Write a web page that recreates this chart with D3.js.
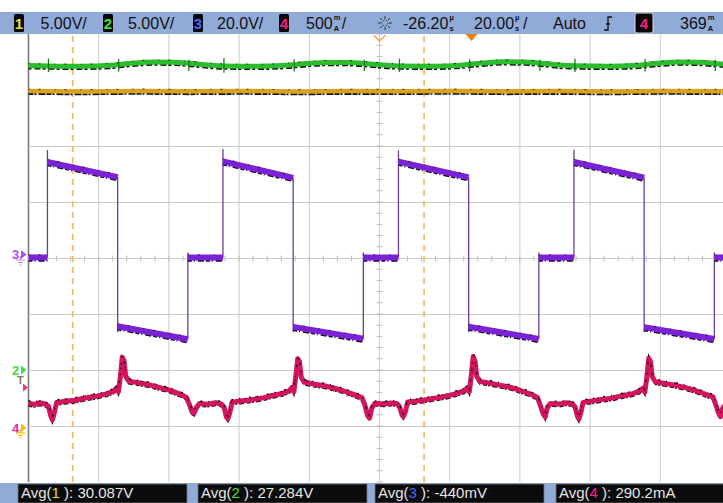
<!DOCTYPE html>
<html><head><meta charset="utf-8">
<script src="https://cdn.jsdelivr.net/npm/d3@7"></script>
<style>
body{margin:0;background:#fff}
svg{display:block}
text{font-family:"Liberation Sans",Arial,sans-serif}
</style>
</head><body>
<svg id="c" width="723" height="503"></svg>
<script>
// ---------------- DATA ----------------
const timeRange = [-126.2, 73.8];          // µs (20 µs/div, delay -26.2 µs)
const cursorTimes = [-113.6, -13.5];       // µs, dashed time cursors
const triggerTime = 0;                      // µs
const delayTime = -26.2;                    // µs

// Channel 1 (V)
const ch1Trace = [[-126.2,30.15],[-110,30.12],[-95,30.17],[-80,30.13],[-65,30.16],[-50,30.12],[-35,30.15],[-20,30.14],[-5,30.17],[10,30.13],[25,30.15],[40,30.12],[55,30.16],[73.8,30.14]];

// Channel 2 (V)
const ch2Trace = [[-126.2,27.18],[-120.8,27.15],[-111,27.12],[-103,27.2],[-97,27.38],[-91,27.5],[-85,27.48],[-79,27.35],[-74,27.2],
  [-70.8,27.15],[-61,27.12],[-53,27.2],[-47,27.36],[-41,27.46],[-35,27.45],[-29,27.33],[-24,27.2],
  [-20.8,27.15],[-11,27.13],[-3,27.22],[3,27.4],[9,27.52],[15,27.5],[21,27.36],[26,27.2],
  [29.2,27.16],[39,27.12],[47,27.2],[53,27.38],[59,27.5],[65,27.47],[71,27.33],[73.8,27.28]];
const ch2SpikeHalf = [0.6,0.55,0.5,0.65,0.55,0.5,0.6,0.55,0.5,0.6,0.55,0.5];  // V, at each ch3 edge

// Channel 3 (V): [tStart, tEnd, vStart, vEnd]
const ch3Segments = [
  [-126.2,-120.8,0.2,0.2],
  [-120.8,-100.8,34.3,28.9],
  [-100.8,-80.8,-24.4,-29.0],
  [-80.8,-70.8,0.2,0.2],
  [-70.8,-50.8,34.5,28.6],
  [-50.8,-30.8,-24.6,-28.8],
  [-30.8,-20.8,0.2,0.2],
  [-20.8,-0.8,34.4,28.8],
  [-0.8,19.2,-24.5,-28.9],
  [19.2,29.2,0.2,0.2],
  [29.2,49.2,34.3,28.7],
  [49.2,69.2,-24.7,-28.9],
  [69.2,73.8,0.2,0.2]
];
const ch3EdgePeaks = [38.6,-26.5,2.0,38.9,-26.5,2.0,38.4,-26.5,2.0,38.7,-26.5,2.0];

// Channel 4 (mA)
const ch4Trace = [[-126.2,228],[-124.5,218],[-123,232],[-121.5,222],
 [-120.5,200],[-119.8,110],[-119.4,80],[-118.8,150],[-118.2,235],[-116,245],[-113,255],[-110,275],[-107,290],[-104,312],[-102,335],[-101.2,362],[-100.6,330],[-100.0,470],[-99.5,640],[-99.0,610],[-98.5,470],[-97.6,425],[-95,412],[-92,395],[-89,370],[-86,345],[-83,310],[-81.2,280],[-80.4,220],[-79.6,150],[-79.0,140],[-78.4,190],[-77.5,225],[-75,220],[-73,232],[-71.3,222],
 [-70.5,195],[-69.8,105],[-69.4,90],[-68.8,150],[-68.2,238],[-66,248],[-63,258],[-60,272],[-57,295],[-54,315],[-52,338],[-51.2,365],[-50.6,330],[-50.0,480],[-49.5,625],[-49.0,600],[-48.5,460],[-47.6,415],[-45,400],[-42,385],[-39,362],[-36,335],[-33,300],[-31.2,278],[-30.4,215],[-29.6,120],[-29.0,96],[-28.4,185],[-27.5,228],[-25,222],[-23,230],[-21.3,225],
 [-20.5,200],[-19.8,125],[-19.4,110],[-18.8,155],[-18.2,240],[-16,246],[-13,260],[-10,276],[-7,292],[-4,318],[-2,340],[-1.2,366],[-0.6,332],[0.0,490],[0.5,645],[1.0,605],[1.5,470],[2.4,422],[5,410],[8,390],[11,372],[14,342],[17,308],[18.8,280],[19.6,210],[20.4,135],[21.0,105],[21.6,190],[22.5,226],[25,220],[27,232],[28.7,224],
 [29.5,195],[30.2,112],[30.6,88],[31.2,150],[31.8,236],[34,247],[37,262],[40,274],[43,296],[46,314],[48,338],[48.8,362],[49.4,328],[50.0,470],[50.5,630],[51.0,600],[51.5,465],[52.4,420],[55,405],[58,390],[61,368],[64,340],[67,305],[68.8,285],[69.6,215],[70.4,140],[71.0,108],[71.6,185],[72.5,222],[73.8,226]];

// Texts
const headerScales = [["1","5.00V/"],["2","5.00V/"],["3","20.0V/"],["4","500"]];
const headerDelay = "-26.20", headerTimebase = "20.00", headerMode = "Auto", headerTrigCh = "4", headerTrigLevel = "369";
const footerLabels = [["1","30.087V"],["2","27.284V"],["3","-440mV"],["4","290.2mA"]];

// ---------------- DRAWING ----------------
const chColor = {"1":"#ecdf2a","2":"#3ee03e","3":"#3f6cff","4":"#ff1a8c"};
const cfg = {
  c1:{perDiv:5, offset:-3.05},
  c2:{perDiv:5, offset:-2.0},
  c3:{perDiv:20, offset:0},
  c4:{perDiv:500, offset:-3.05}
};
const svg = d3.select("#c");
const x = d3.scaleLinear().domain(timeRange).range([28.5, 730.5]);
const yDiv = d3.scaleLinear().domain([-4,4]).range([482,34]);
const yOf = (c, v) => yDiv(v / c.perDiv + c.offset);

svg.append("defs").append("clipPath").attr("id","plot")
  .append("rect").attr("x",28).attr("y",34).attr("width",700).attr("height",448);

// grid
const g = svg.append("g");
const vDivs = d3.range(0,11).map(k => timeRange[0] + 20*k);
g.selectAll("line.v").data(vDivs).join("line")
  .attr("x1",d=>x(d)).attr("x2",d=>x(d)).attr("y1",34).attr("y2",482)
  .attr("stroke",(d,i)=> i===0 ? "#7a7a7a" : "#cbcbcb").attr("stroke-width",(d,i)=> i===0?1.6:1);
g.selectAll("line.h").data(d3.range(-3,4)).join("line")
  .attr("x1",28.5).attr("x2",723).attr("y1",d=>yDiv(d)+0.5).attr("y2",d=>yDiv(d)+0.5)
  .attr("stroke","#cbcbcb").attr("stroke-width",1);
// center ticks
const hTicks = d3.range(timeRange[0], timeRange[1]+0.01, 4);
g.selectAll("line.ht").data(hTicks).join("line")
  .attr("x1",d=>x(d)).attr("x2",d=>x(d)).attr("y1",yDiv(0)-2.5).attr("y2",yDiv(0)+3.5)
  .attr("stroke","#bdbdbd");
const vTicks = d3.range(-4,4.01,0.2);
g.selectAll("line.vt").data(vTicks).join("line")
  .attr("x1",x(delayTime)-3).attr("x2",x(delayTime)+3).attr("y1",d=>yDiv(d)).attr("y2",d=>yDiv(d))
  .attr("stroke","#bdbdbd");

// cursors
g.selectAll("line.cur").data(cursorTimes).join("line")
  .attr("x1",d=>x(d)).attr("x2",d=>x(d)).attr("y1",36).attr("y2",482)
  .attr("stroke","#f3b45c").attr("stroke-width",1.6).attr("stroke-dasharray","6,5");

const plot = svg.append("g").attr("clip-path","url(#plot)");

function trace(points, c, color, w, curve, noiseDash, noiseOff) {
  const line = d3.line().x(d=>x(d[0])).y(d=>yOf(c,d[1])).curve(curve);
  const d = line(points);
  plot.append("path").attr("d",d).attr("fill","none").attr("stroke","#111")
    .attr("stroke-width",2).attr("stroke-dasharray",noiseDash)
    .attr("transform",`translate(0,${noiseOff})`);
  plot.append("path").attr("d",d).attr("fill","none").attr("stroke",color)
    .attr("stroke-width",w).attr("stroke-linejoin","round");
  plot.append("path").attr("d",d).attr("fill","none").attr("stroke","#111")
    .attr("stroke-width",1.2).attr("stroke-dasharray","1,9,2,14").attr("opacity",0.7)
    .attr("transform",`translate(0,${-w/2+0.5})`);
}

// ch1
trace(ch1Trace, cfg.c1, "#d9a21c", 4.5, d3.curveLinear, "5,1,2,2,7,1", 2.8);
// ch2
trace(ch2Trace, cfg.c2, "#2cbd2c", 5, d3.curveMonotoneX, "3,3,6,2", 2.8);

// ch3 levels + edges
const edges = ch3Segments.slice(0,-1).map((s,i) => {
  const nxt = ch3Segments[i+1];
  const vals = [s[3], nxt[2], ch3EdgePeaks[i]];
  return {t:s[1], lo:d3.min(vals), hi:d3.max(vals)};
});
plot.selectAll("line.e").data(edges).join("line")
  .attr("x1",d=>x(d.t)).attr("x2",d=>x(d.t))
  .attr("y1",d=>yOf(cfg.c3,d.hi)).attr("y2",d=>yOf(cfg.c3,d.lo))
  .attr("stroke","#6a3f96").attr("stroke-width",1.3);
ch3Segments.forEach(s => {
  trace([[s[0],s[2]],[s[1],s[3]]], cfg.c3, "#7b22d6", 6, d3.curveLinear, "4,2,1,3,6,2", 3.2);
});

// ch2 spikes at edges
plot.selectAll("line.sp").data(edges).join("line")
  .attr("x1",d=>x(d.t)+1).attr("x2",d=>x(d.t)+1)
  .attr("y1",(d,i)=>yOf(cfg.c2, 27.2 + ch2SpikeHalf[i]))
  .attr("y2",(d,i)=>yOf(cfg.c2, 27.2 - ch2SpikeHalf[i]))
  .attr("stroke","#1f7a1f").attr("stroke-width",1.3);

// ch4
trace(ch4Trace, cfg.c4, "#d3145e", 5, d3.curveLinear, "4,1,2,2,5,3", 2.4);
plot.append("path").attr("d", d3.line().x(d=>x(d[0])).y(d=>yOf(cfg.c4,d[1]))(ch4Trace))
  .attr("fill","none").attr("stroke","#111").attr("stroke-width",1.5)
  .attr("stroke-dasharray","2,6,1,9").attr("transform","translate(0,-2.5)");

// top markers
svg.append("path").attr("d",`M${x(delayTime)-6},35 L${x(delayTime)},41 L${x(delayTime)+6},35`)
  .attr("fill","none").attr("stroke","#f2a040").attr("stroke-width",1.4);
svg.append("path").attr("d",`M${x(triggerTime)-6},34 L${x(triggerTime)+6},34 L${x(triggerTime)},41 Z`)
  .attr("fill","#f07a1a");

// left markers
const ml = svg.append("g").attr("font-weight","bold").attr("font-size",13);
function arrow(yy, color){ ml.append("path").attr("d",`M21,${yy-4.5} L26.5,${yy} L21,${yy+4.5} Z`).attr("fill",color); }
function gnd(yy, color){ ml.append("path").attr("d",`M16,${yy} h9 M18,${yy+2.5} h5 M19.5,${yy+5} h2 M20.5,${yy-4} v4`).attr("stroke",color).attr("stroke-width",1.2).attr("fill","none"); }
const y3 = yOf(cfg.c3,0), y2 = yOf(cfg.c2,0), y4 = yOf(cfg.c4,0), yT = yOf(cfg.c4,369);
ml.append("text").attr("x",12).attr("y",y3+1).text("3").attr("fill","#b050f0");
arrow(y3-3.5,"#b050f0"); gnd(y3+2,"#c080f0");
ml.append("text").attr("x",12).attr("y",y2+4.5).text("2").attr("fill","#44dd44");
arrow(y2,"#44dd44");
ml.append("text").attr("x",17).attr("y",yT-3).attr("font-size",11).text("T").attr("fill","#8a7a45");
ml.append("path").attr("d",`M23,${yT-4} L28,${yT} L23,${yT+4} Z`).attr("fill","#ff2a8a");
ml.append("text").attr("x",12).attr("y",y4+4).text("4").attr("fill","#ee2aa0");
arrow(y4-1,"#e8c020"); gnd(y4+4,"#e8c020");

// header bar
const hb = svg.append("g");
hb.append("rect").attr("x",0).attr("y",12).attr("width",723).attr("height",22).attr("fill","#91abd9");
function badge(bx, ch, w=10){
  hb.append("rect").attr("x",bx).attr("y",14).attr("width",w).attr("height",18).attr("rx",1.5).attr("fill","#060606");
  hb.append("text").attr("x",bx+w/2).attr("y",29).attr("text-anchor","middle").attr("font-size",15).attr("font-weight","bold")
    .attr("fill",chColor[ch]).text(ch);
}
function stack(sx, top, bot){
  hb.append("text").attr("x",sx).attr("y",19.5).attr("font-size",7.5).attr("font-weight","bold").attr("fill","#111").text(top);
  hb.append("text").attr("x",sx).attr("y",31).attr("font-size",7.5).attr("font-weight","bold").attr("fill","#111").text(bot);
  return sx + 7.5;
}
function htxt(tx, s){
  const t = hb.append("text").attr("x",tx).attr("y",28.5).attr("font-size",16).attr("fill","#111").text(s);
  return tx + t.node().getComputedTextLength();
}
const badgeX = [14,103,193,279], textX = [40.5,128,217,306];
let e4 = 0;
headerScales.forEach((d,i)=>{ badge(badgeX[i], d[0]); const e = htxt(textX[i], d[1]); if (i===3) e4 = e; });
htxt(stack(e4+1,"m","A")+0.5,"/");
// brightness icon
const bi = hb.append("g").attr("stroke","#333").attr("stroke-width",1).attr("fill","none");
bi.append("circle").attr("cx",385).attr("cy",23).attr("r",3).attr("stroke-dasharray","1.5,1.5");
[[378,23,381,23],[389,23,392,23],[385,16,385,19],[385,27,385,30],[380,18,382,20],[388,26,390,28],[380,28,382,26],[388,20,390,18]]
  .forEach(l=>bi.append("line").attr("x1",l[0]).attr("y1",l[1]).attr("x2",l[2]).attr("y2",l[3]));
stack(htxt(403, headerDelay)+1,"µ","s");
htxt(stack(htxt(474, headerTimebase)+1,"µ","s")+0.5,"/");
htxt(553, headerMode);
hb.append("path").attr("d","M604,30 L608,30 L608,17 L612,17 M606,24 L610,24").attr("stroke","#111").attr("stroke-width",1.3).attr("fill","none");
hb.append("rect").attr("x",635).attr("y",13).attr("width",18).attr("height",20).attr("rx",2).attr("fill","#060606").attr("stroke","#dcdcdc").attr("stroke-width",1);
hb.append("text").attr("x",644).attr("y",29).attr("text-anchor","middle").attr("font-size",15).attr("font-weight","bold").attr("fill",chColor[headerTrigCh]).text(headerTrigCh);
stack(htxt(680, headerTrigLevel)+1,"m","A");

// footer
const fb = svg.append("g");
fb.append("rect").attr("x",0).attr("y",483).attr("width",723).attr("height",20).attr("fill","#91abd9");
const boxX = [18,198,375,556];
footerLabels.forEach((d,i)=>{
  fb.append("rect").attr("x",boxX[i]).attr("y",484).attr("width",i===3?170:169).attr("height",19).attr("fill","#0b0b0b").attr("stroke","#777").attr("stroke-width",0.8);
  const t = fb.append("text").attr("x",boxX[i]+3).attr("y",498).attr("font-size",15).attr("fill","#e6e6e6");
  t.append("tspan").text("Avg(");
  t.append("tspan").attr("fill",chColor[d[0]]).text(d[0]);
  t.append("tspan").text(" ): " + d[1]);
});
</script>
</body></html>
